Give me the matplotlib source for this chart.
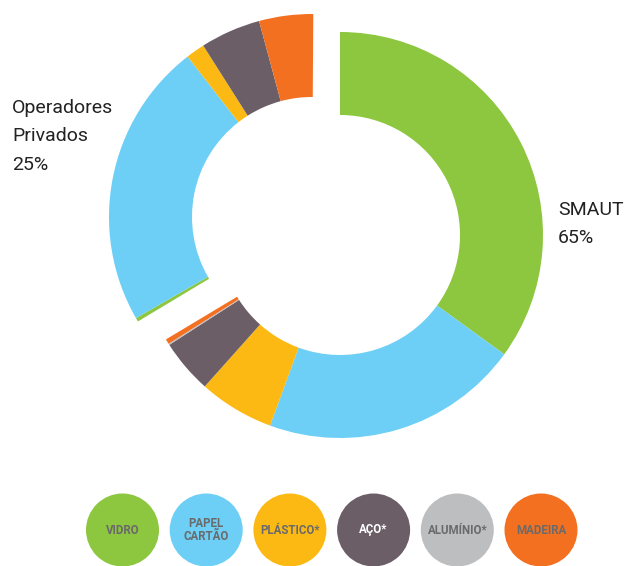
import matplotlib
matplotlib.use("Agg")
import matplotlib.pyplot as plt
from matplotlib.patches import Circle

# material streams, in legend order
materials = ["VIDRO", "PAPEL\nCARTÃO", "PLÁSTICO*", "AÇO*", "ALUMÍNIO*", "MADEIRA"]
colors = ["#8dc63f", "#6dcff6", "#fdb913", "#6b5e67", "#bcbec0", "#f37021"]
text_colors = ["#6a6a6a", "#6a6a6a", "#6a6a6a", "#ffffff", "#6a6a6a", "#6a6a6a"]

# share of the total collected (%), per operator
smaut_share = [35.0, 20.6, 6.0, 4.3, 0.1, 0.4]
privados_share = [0.3, 22.8, 1.5, 4.8, 0.0, 4.3]

group_labels = ["SMAUT\n65%", "Operadores\nPrivados\n25%"]

W, H = 624, 566
fig = plt.figure(figsize=(W / 100, H / 100), dpi=100)
ax = fig.add_axes([0, 0, 1, 1])

font = ["Roboto", "DejaVu Sans"]

R, ring = 203, 83
cx, cy = 326, 566 - 226
offset = (14, 9)

# SMAUT ring, pushed out to the lower right
ax.pie([v / 100 for v in smaut_share], colors=colors, radius=R,
       center=(cx + offset[0], cy - offset[1]), startangle=90, counterclock=False,
       normalize=False, wedgeprops=dict(width=ring, linewidth=0))

# private operators ring, pushed out to the upper left
start = 90 - 360 * sum(smaut_share) / 100
ax.pie([v / 100 for v in privados_share], colors=colors, radius=R,
       center=(cx - offset[0], cy + offset[1]), startangle=start, counterclock=False,
       normalize=False, wedgeprops=dict(width=ring, linewidth=0))

ax.text(558, 566 - 201, group_labels[0], ha="left", va="top", fontsize=14,
        color="#222222", family=font, linespacing=1.74)
ax.text(12, 566 - 99, group_labels[1], ha="left", va="top", fontsize=14,
        color="#222222", family=font, linespacing=1.74)

# legend bubbles
for i, (name, c, tc) in enumerate(zip(materials, colors, text_colors)):
    x = 122.5 + i * 83.7
    y = 566 - 530
    ax.add_patch(Circle((x, y), 36.5, color=c, lw=0))
    ax.text(x, y, name, ha="center", va="center", fontsize=8.3, fontweight="bold",
            color=tc, family=font, linespacing=1.0)

ax.set_xlim(0, W)
ax.set_ylim(0, H)
ax.set_aspect("equal")
ax.axis("off")
fig.savefig("out.png", dpi=100)
